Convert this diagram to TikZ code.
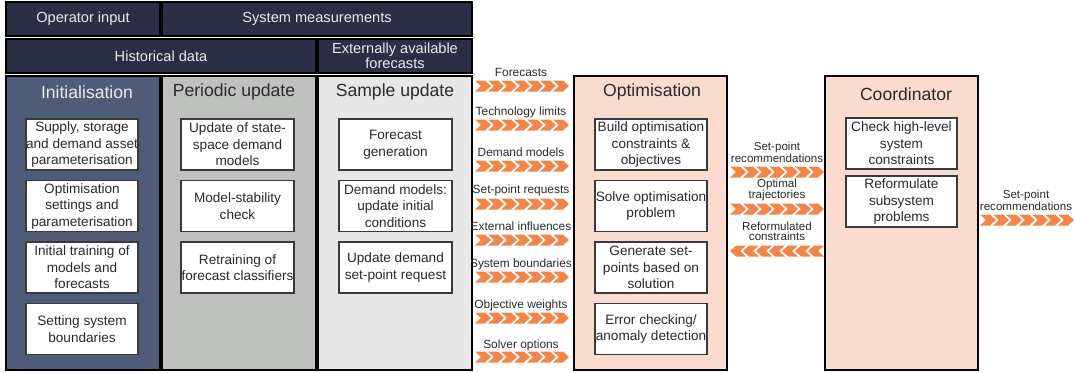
\documentclass[tikz,border=0pt]{standalone}
\usepackage{fontspec}
\setmainfont{Liberation Sans}
\begin{document}
\begin{tikzpicture}[x=1pt,y=-1pt,
  hdr/.style={draw=black,line width=1.2pt,fill=hdrc,text=white!92!black,minimum height=34pt,inner sep=0pt,align=center,font=\fontsize{14.6}{15.5}\selectfont},
  col/.style={draw=black,line width=1.2pt,minimum height=294pt,minimum width=154pt,inner sep=0pt},
  ttl/.style={font=\fontsize{17.6}{19}\selectfont,inner sep=0pt},
  sub/.style={draw=subc,line width=1.1pt,fill=white,text=txtc,minimum width=112pt,minimum height=51pt,inner sep=0pt,align=center,font=\fontsize{13.6}{16.5}\selectfont},
  lab/.style={text=txtc,inner sep=0pt,align=center,font=\fontsize{11.9}{12}\selectfont},
  lab2/.style={text=txtc,inner sep=0pt,align=center,font=\fontsize{11.6}{10}\selectfont},
]
\definecolor{hdrc}{HTML}{2C2E45}
\definecolor{initc}{HTML}{4E5C78}
\definecolor{perc}{HTML}{BFC1BF}
\definecolor{samc}{HTML}{E7E7E7}
\definecolor{optc}{HTML}{F9DBD0}
\definecolor{orc}{HTML}{F0864A}
\definecolor{subc}{HTML}{3A3A3A}
\definecolor{txtc}{HTML}{2A2A2A}
\useasboundingbox (0,0) rectangle (1075,372);

% chevron rows: start x, centre y, direction
\newcommand\chevrow[3]{%
  \foreach \k in {0,...,6}{%
    \pgfmathsetmacro\xa{#1+13*\k}%
    \ifnum#3=1
      \fill[orc] (\xa,#2-5.5) -- (\xa+10,#2-5.5) -- (\xa+16,#2) -- (\xa+10,#2+5.5) -- (\xa,#2+5.5) -- (\xa+6,#2) -- cycle;
    \else
      \fill[orc] (\xa+16,#2-5.5) -- (\xa+6,#2-5.5) -- (\xa,#2) -- (\xa+6,#2+5.5) -- (\xa+16,#2+5.5) -- (\xa+10,#2) -- cycle;
    \fi
  }}

% header rows
\node[hdr,minimum width=154pt] (op) at (83,19) {Operator input};
\node[hdr,minimum width=310pt] (sys) at (317,19) {System measurements};
\node[hdr,minimum width=310pt] (hist) at (161,56) {Historical data};
\node[hdr,minimum width=154pt] (ext) at (395,56) {Externally available\\forecasts};

% columns
\node[col,fill=initc] (init) at (83,223) {};
\node[col,fill=perc] (per) at (239,223) {};
\node[col,fill=samc] (sam) at (395,223) {};
\node[col,fill=optc,minimum width=153pt] (opt) at (650.5,223) {};
\node[col,fill=optc,minimum width=153pt] (coord) at (901.5,223) {};

\node[ttl,text=white!92!black] (tinit) at (87,92) {Initialisation};
\node[ttl,text=txtc] (tper) at (234,92) {Periodic update};
\node[ttl,text=txtc] (tsam) at (395,92) {Sample update};
\node[ttl,text=txtc] (topt) at (652,92) {Optimisation};
\node[ttl,text=txtc] (tcoord) at (906,94) {Coordinator};

% initialisation
\node[sub] (i1) at (82,144.5) {Supply, storage\\and demand asset\\parameterisation};
\node[sub] (i2) at (82,206) {Optimisation\\settings and\\parameterisation};
\node[sub] (i3) at (82,267.5) {Initial training of\\models and\\forecasts};
\node[sub] (i4) at (82,329) {Setting system\\boundaries};
% periodic
\node[sub,minimum width=113pt] (p1) at (237.5,144.5) {Update of state-\\space demand\\models};
\node[sub,minimum width=113pt] (p2) at (237.5,206) {Model-stability\\check};
\node[sub,minimum width=113pt] (p3) at (237.5,267.5) {Retraining of\\forecast classifiers};
% sample
\node[sub,minimum width=113pt] (s1) at (395.5,144.5) {Forecast\\generation};
\node[sub,minimum width=113pt] (s2) at (395.5,206) {Demand models:\\update initial\\conditions};
\node[sub,minimum width=113pt] (s3) at (395.5,267.5) {Update demand\\set-point request};
% optimisation
\node[sub] (o1) at (651,144.5) {Build optimisation\\constraints \&\\objectives};
\node[sub] (o2) at (651,206) {Solve optimisation\\problem};
\node[sub] (o3) at (651,267.5) {Generate set-\\points based on\\solution};
\node[sub] (o4) at (651,329) {Error checking/\\anomaly detection};
% coordinator
\node[sub,minimum width=111pt] (c1) at (901.5,143.5) {Check high-level\\system\\constraints};
\node[sub,minimum width=111pt] (c2) at (901.5,201.5) {Reformulate\\subsystem\\problems};

% left arrows with labels
\foreach \ly/\ay/\t in {72/86/Forecasts,112/125/Technology limits,152/166/Demand models,190/204/Set-point requests,226/240/External influences,264/277/System boundaries,305/318/Objective weights,345/357/Solver options}{
  \node[lab] at (521,\ly) {\t};
  \chevrow{475}{\ay}{1}
}

% middle arrows
\node[lab2] (m1) at (777,152) {Set-point\\recommendations};
\chevrow{730}{172}{1}
\node[lab2] (m2) at (777,190) {Optimal\\trajectories};
\chevrow{730}{209}{1}
\node[lab2] (m3) at (777,231) {Reformulated\\constraints};
\chevrow{730}{251}{0}

% right arrow
\node[lab2] (r1) at (1026,200) {Set-point\\recommendations};
\chevrow{980}{220}{1}
\end{tikzpicture}
\end{document}
